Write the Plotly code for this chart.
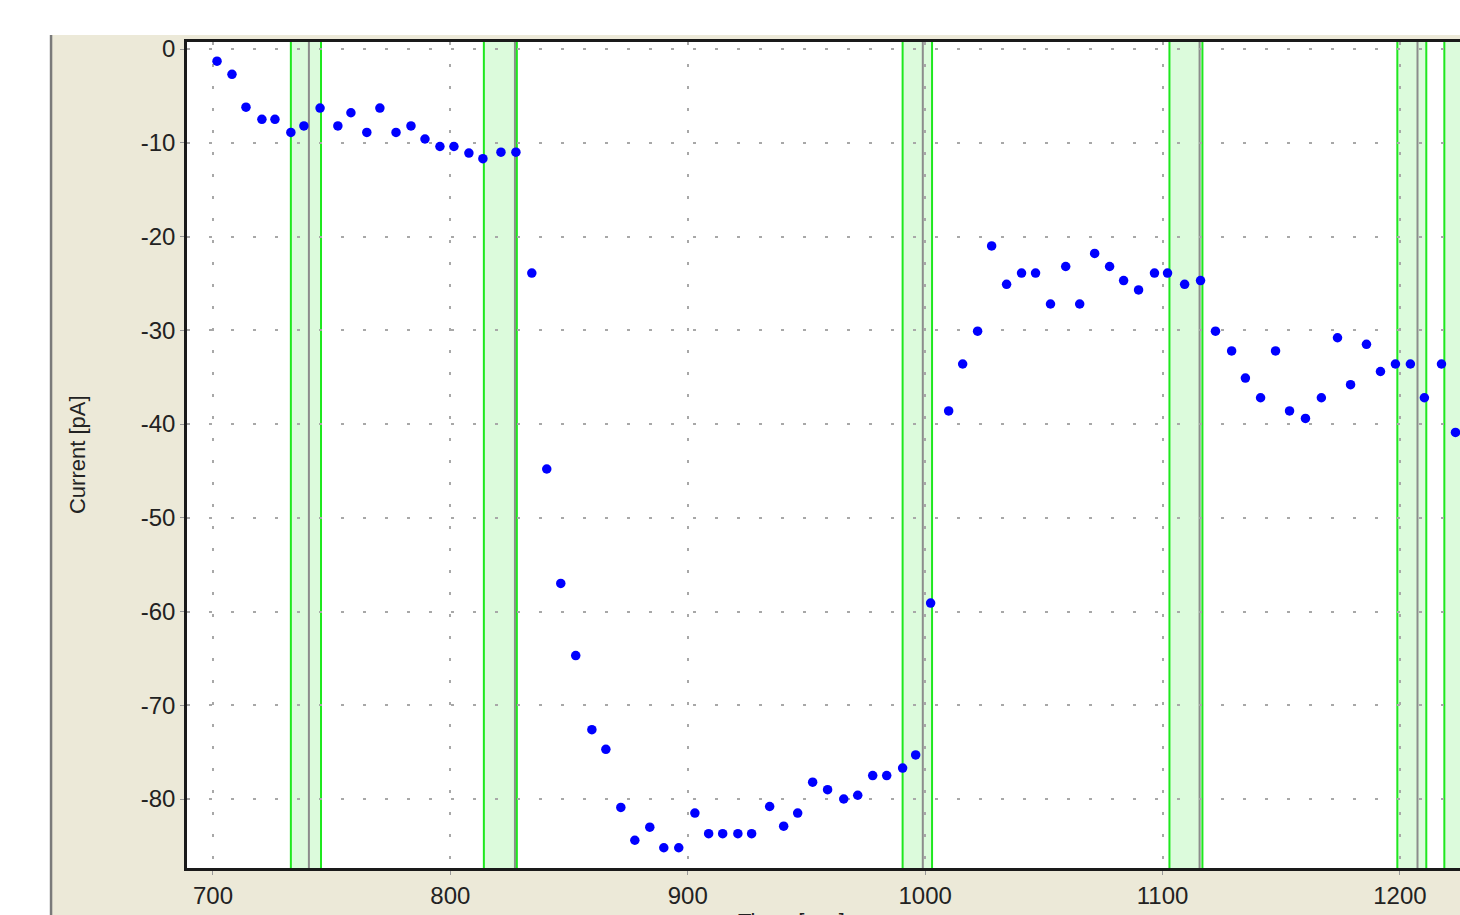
import plotly.graph_objects as go

# ---- data ----
time_s = [701.7, 708.0, 713.9, 720.6, 726.1, 732.8, 738.3, 745.1, 752.6, 758.1,
          764.8, 770.3, 777.1, 783.4, 789.3, 795.6, 801.5, 807.8, 813.7, 821.3,
          827.6, 834.3, 840.6, 846.5, 852.8, 859.6, 865.5, 871.8, 877.7, 884.0,
          889.9, 896.2, 903.0, 908.8, 914.7, 921.1, 926.9, 934.5, 940.4, 946.3,
          952.6, 958.9, 965.7, 971.6, 977.9, 983.8, 990.5, 996.0, 1002.3, 1009.9,
          1015.8, 1022.1, 1028.0, 1034.3, 1040.6, 1046.5, 1052.8, 1059.2, 1065.1, 1071.4,
          1077.7, 1083.6, 1089.9, 1096.6, 1102.1, 1109.3, 1116.0, 1122.3, 1129.1, 1134.9,
          1141.3, 1147.6, 1153.5, 1160.2, 1166.9, 1173.7, 1179.2, 1185.9, 1191.8, 1198.1,
          1204.4, 1210.3, 1217.5, 1223.4]
current_pa = [-1.3, -2.7, -6.2, -7.5, -7.5, -8.9, -8.2, -6.3, -8.2, -6.8,
              -8.9, -6.3, -8.9, -8.2, -9.6, -10.4, -10.4, -11.1, -11.7, -11.0,
              -11.0, -23.9, -44.8, -57.0, -64.7, -72.6, -74.7, -80.9, -84.4, -83.0,
              -85.2, -85.2, -81.5, -83.7, -83.7, -83.7, -83.7, -80.8, -82.9, -81.5,
              -78.2, -79.0, -80.0, -79.6, -77.5, -77.5, -76.7, -75.3, -59.1, -38.6,
              -33.6, -30.1, -21.0, -25.1, -23.9, -23.9, -27.2, -23.2, -27.2, -21.8,
              -23.2, -24.7, -25.7, -23.9, -23.9, -25.1, -24.7, -30.1, -32.2, -35.1,
              -37.2, -32.2, -38.6, -39.4, -37.2, -30.8, -35.8, -31.5, -34.4, -33.6,
              -33.6, -37.2, -33.6, -40.9]

band_start = [732.8, 814.1, 990.5, 1102.9, 1198.9, 1218.7]
band_mark = [740.4, 827.2, 999.0, 1115.6, 1207.4, 1227.0]
band_end = [745.5, 828.0, 1002.9, 1116.8, 1211.1, 1232.0]

top_marks = [895.0, 916.8, 929.9, 1038.9, 1060.4, 1073.5, 1143.4, 1164.8, 1177.9, 1200.6, 1222.1]
top_mark_level = [1.49] * len(top_marks)

x_ticks = [700, 800, 900, 1000, 1100, 1200]
y_ticks = [0, -10, -20, -30, -40, -50, -60, -70, -80]

FONT = "Liberation Sans, Arial, sans-serif"

fig = go.Figure()

fig.add_trace(go.Scatter(
    x=time_s, y=current_pa, mode="markers",
    marker=dict(color="#0000ff", size=9.5, line=dict(width=0)),
    showlegend=False, hoverinfo="x+y"))

fig.add_trace(go.Scatter(
    x=top_marks, y=top_mark_level, mode="markers",
    marker=dict(color="#333333", size=4), cliponaxis=False,
    showlegend=False, hoverinfo="skip"))

shapes = []
# white areas outside the beige panel
shapes.append(dict(type="rect", xref="paper", yref="paper", x0=-0.16, x1=1.02,
                   y0=1.0085, y1=1.07, fillcolor="white", line=dict(width=0), layer="below"))
shapes.append(dict(type="rect", xref="paper", yref="paper", x0=-0.16, x1=-0.1076,
                   y0=-0.07, y1=1.07, fillcolor="white", line=dict(width=0), layer="below"))
shapes.append(dict(type="line", xref="paper", yref="paper", x0=-0.1068, x1=-0.1068,
                   y0=-0.07, y1=1.0085, line=dict(color="#7a7a7a", width=2.5), layer="below"))

for s, m, e in zip(band_start, band_mark, band_end):
    shapes.append(dict(type="rect", xref="x", yref="paper", x0=s, x1=e, y0=0, y1=1,
                       fillcolor="#dcfbdc", line=dict(width=0), layer="below"))
for s, m, e in zip(band_start, band_mark, band_end):
    shapes.append(dict(type="line", xref="x", yref="paper", x0=m, x1=m, y0=0, y1=1,
                       line=dict(color="#8c8c8c", width=2), layer="below"))
    shapes.append(dict(type="line", xref="x", yref="paper", x0=s, x1=s, y0=0, y1=1,
                       line=dict(color="#1ee81e", width=2), layer="below"))
    shapes.append(dict(type="line", xref="x", yref="paper", x0=e, x1=e, y0=0, y1=1,
                       line=dict(color="#1ee81e", width=2), layer="below"))

fig.update_layout(
    width=1460, height=915,
    margin=dict(l=187, r=0, t=42, b=47, pad=0),
    paper_bgcolor="#ece9d8",
    plot_bgcolor="white",
    font=dict(family=FONT, size=24, color="#222222"),
    shapes=shapes,
    showlegend=False,
    annotations=[
        dict(text="Current [pA]", xref="paper", yref="paper", x=-0.0864, y=0.5,
             xanchor="center", yanchor="middle", textangle=-90, showarrow=False,
             font=dict(family=FONT, size=22, color="#222222")),
        dict(text="Time  [sec]", xref="paper", yref="paper", x=0.475, y=-0.047,
             xanchor="center", yanchor="top", showarrow=False,
             font=dict(family=FONT, size=22, color="#222222")),
    ],
)

fig.update_xaxes(
    range=[689.05, 1225.3], tickvals=x_ticks, ticktext=[str(v) for v in x_ticks],
    showgrid=True, gridcolor="#a8a8a8", gridwidth=2, griddash="3px,19px",
    showline=True, linecolor="#1a1a1a", linewidth=2.5, mirror=True,
    ticks="outside", ticklen=4, tickcolor="#999999", tickwidth=1,
    zeroline=False, tickfont=dict(family=FONT, size=24, color="#222222"),
)
fig.update_yaxes(
    range=[-87.36, 0.747], tickvals=y_ticks, ticktext=[str(v) for v in y_ticks],
    showgrid=True, gridcolor="#a8a8a8", gridwidth=2, griddash="3px,19px",
    showline=True, linecolor="#1a1a1a", linewidth=2.5, mirror=False,
    ticks="outside", ticklen=4, tickcolor="#999999", tickwidth=1,
    zeroline=False, tickfont=dict(family=FONT, size=24, color="#222222"),
)

fig.write_html("out.html")
